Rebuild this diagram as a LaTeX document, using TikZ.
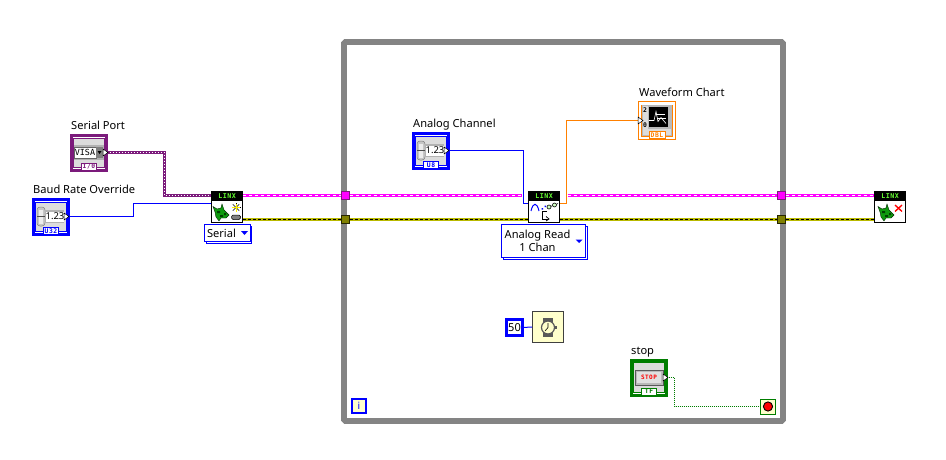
\documentclass[tikz,border=0pt]{standalone}
\usepackage{fontspec}
\setmainfont{Noto Sans}
\newfontfamily\pixfont[LetterSpace=8]{DejaVu Sans Mono}
\newfontfamily\visafont{DejaVu Sans Mono}
\usetikzlibrary{calc}
\definecolor{lvblue}{HTML}{0000FF}
\definecolor{lvpurple}{HTML}{7B1A7B}
\definecolor{lvorange}{HTML}{FF8000}
\definecolor{lvgreen}{HTML}{007D00}
\definecolor{lvgray}{HTML}{DCDCDC}
\definecolor{midgray}{HTML}{848484}
\definecolor{lvmag}{HTML}{FF00FF}
\definecolor{lvolive}{HTML}{808000}
\definecolor{lvyellow}{HTML}{E8E800}
\definecolor{paleyellow}{HTML}{FFFFCC}
\definecolor{linxgreen}{HTML}{0E9A0E}
\definecolor{linxtext}{HTML}{66FF33}
\pgfdeclarelayer{frame}
\pgfdeclarelayer{wires}
\pgfsetlayers{frame,wires,main}
\tikzset{
  x=1pt,y=-1pt,
  ctlbox/.style={draw=#1,fill=white,line width=3pt,minimum size=35pt,inner sep=0pt,outer sep=0pt},
  labeltext/.style={anchor=base west,inner sep=0pt,font=\fontsize{11.1}{13}\selectfont,text=black},
  tabtext/.style={inner sep=0pt,font=\pixfont\bfseries\fontsize{6.4}{7}\selectfont},
  linxbox/.style={draw=black,fill=white,line width=1pt,minimum width=31pt,minimum height=31pt,inner sep=0pt,outer sep=0.5pt},
  linxtag/.style={inner sep=0pt,text=linxtext,font=\pixfont\bfseries\fontsize{6.6}{7}\selectfont},
  tunnelmag/.style={draw=lvpurple,fill=lvmag,line width=0.6pt,minimum size=8.4pt,inner sep=0pt,outer sep=0pt},
  tunnelyel/.style={draw=black!70!lvolive,fill=lvolive,line width=0.6pt,minimum size=8.4pt,inner sep=0pt,outer sep=0pt},
  ringbox/.style={draw=lvblue,fill=white,line width=0.8pt,inner sep=0pt,outer sep=0pt},
  ringshadow/.style={draw=lvblue,fill=white,line width=0.8pt},
  wireblue/.style={draw=lvblue,line width=1pt},
  wireorange/.style={draw=lvorange,line width=1pt},
  wiregreen/.style={draw=lvgreen,line width=1pt,dash pattern=on 1pt off 1pt},
  wirepurple/.style={draw=lvpurple,line width=2.4pt,postaction={draw=white,line width=0.7pt,dash pattern=on 1pt off 2pt}},
  wiremag/.style={draw=lvmag,line width=3pt,postaction={draw=white,line width=1pt,dash pattern=on 3pt off 3pt}},
  wireyel/.style={draw=lvyellow!55!lvolive,line width=3pt,postaction={draw=black,line width=1.2pt,dash pattern=on 3pt off 2pt}},
  termtip/.style={draw=black,fill=white,line width=0.5pt},
}
\newcommand{\tabmark}[5]{% x0,y0,x1,y1 relative, text; colour via \tabcol
  \node[draw=\tabcol,fill=white,line width=0.8pt,minimum width=#3-#1,minimum height=#4-#2,inner sep=0pt,text=\tabcol,tabtext] at ($(#1,#2)!0.5!(#3,#4)$) {#5};}
\newcommand{\numctl}[5]{% name,cx,cy,tab text, tab width
  \node[ctlbox=lvblue] (#1) at (#2,#3) {};
  \begin{scope}[shift={(#2,#3)}]
    \draw[lvblue,line width=0.7pt,fill=lvgray] (-15.5,-14.5) rectangle (15.5,14.5);
    \draw[fill=gray!45,draw=gray,line width=0.5pt,rounded corners=3pt] (-14,-9.5) rectangle (-6,9.5);
    \fill[gray!15] (-12,-7) rectangle (-8,7);
    \draw[gray!60!black,line width=0.5pt] (-14,0) -- (-6,0);
    \fill[gray!60] (-6,-6.5) rectangle (13,6.5);
    \node[draw=none,fill=white,minimum width=18pt,minimum height=10pt,inner sep=0pt,font=\fontsize{9.5}{10}\selectfont] at (4,0) {1.23};
    \draw[termtip] (13,-3.5) -- (18,0) -- (13,3.5) -- cycle;
    \def\tabcol{lvblue}
    \tabmark{-#5}{11}{#5}{17.5}{#4}
  \end{scope}}
\newcommand{\linxhead}[2]{% top-left x,y
  \begin{scope}[shift={(#1,#2)}]
    \fill[linxgreen,draw=black!70!linxgreen,line width=0.4pt] (0,2.5) -- (4,5) -- (8,4) -- (9,0) -- (11,6) -- (16,11) -- (13,14) -- (8,14) -- (6,17) -- (3,13) -- (2,8) -- cycle;
    \fill[black!75!green] (4,7) rectangle (7,9) (7,11) rectangle (10,13) (11,9) rectangle (13,11);
  \end{scope}}
\begin{document}
\begin{tikzpicture}
\useasboundingbox (0,0) rectangle (946,460);

% while loop frame
\begin{pgfonlayer}{frame}
  \fill[white] (0,0) rectangle (946,460);
  \draw[midgray,line width=5.7pt,rounded corners=1.5pt] (344,42) rectangle (783,421);
\end{pgfonlayer}

% controls
\node[ctlbox=lvpurple] (serialport) at (89,152.5) {};
\begin{scope}[shift={(89,152.5)}]
  \draw[lvpurple,line width=0.7pt,fill=lvgray] (-15.5,-14.5) rectangle (15.5,14.5);
  \fill[gray!60] (-15.2,-7.5) rectangle (15,7.5);
  \node[draw=black!60,fill=white,line width=0.4pt,minimum width=22pt,minimum height=11pt,inner sep=0pt,font=\visafont\fontsize{8.4}{9}\selectfont] at (-4,0) {VISA};
  \fill[gray] (7,-5.5) rectangle (14,5.5);
  \fill[black] (8.5,-1.5) -- (12.5,-1.5) -- (10.5,1.5) -- cycle;
  \draw[termtip] (14,-3.5) -- (19,0) -- (14,3.5) -- cycle;
  \def\tabcol{lvpurple}
  \tabmark{-7.5}{10.5}{7.5}{17.5}{I/0}
\end{scope}
\node[labeltext] (lblserial) at (71,129) {Serial Port};

\numctl{baud}{51}{216.5}{U32}{7.5}
\node[labeltext] (lblbaud) at (33,193) {Baud Rate Override};

\numctl{chan}{431}{150.5}{U8}{7.5}
\node[labeltext] (lblchan) at (413,127.5) {Analog Channel};

% waveform chart
\node[draw=lvorange,fill=white,line width=1pt,minimum size=37pt,inner sep=0pt,outer sep=0pt] (chart) at (657,120.5) {};
\begin{scope}[shift={(657,120.5)}]
  \draw[lvorange,line width=0.7pt] (-15.5,-15.5) rectangle (15.5,15.5);
  \fill[gray!55] (-15,-15) rectangle (15,15);
  \fill[lvgray] (-14,-14) rectangle (-9,12);
  \fill[lvgray] (-14,8) rectangle (14,14);
  \fill[black] (-8,-13) rectangle (11,6);
  \draw[white,line width=0.6pt] (-8,0) -- (-3,0) -- (-1,-9) -- (1,1) -- (4,-3) -- (9,3);
  \draw[white,line width=0.5pt] (-1,-6) -- (8,-6) (0,-2) -- (9,-2);
  \node[tabtext] at (-12,-10) {2};
  \node[tabtext] at (-12,5) {0};
  \draw[termtip] (-19,-3.5) -- (-14,0) -- (-19,3.5) -- cycle;
  \def\tabcol{lvorange}
  \tabmark{-8}{11}{8}{17.5}{DBL}
\end{scope}
\node[labeltext] (lblchart) at (639,96.5) {Waveform Chart};

% stop button
\node[ctlbox=lvgreen] (stopbtn) at (649,377.5) {};
\begin{scope}[shift={(649,377.5)}]
  \draw[lvgreen,line width=0.7pt,fill=lvgray] (-15.5,-15) rectangle (15.5,15);
  \draw[draw=gray!70!black,fill=gray!55,line width=0.8pt] (-14,-7.5) rectangle (14,7.5);
  \fill[gray!25] (-12,-5.5) rectangle (12,5.5);
  \node[inner sep=0pt,text=red,font=\pixfont\bfseries\fontsize{6}{6}\selectfont] at (0,0) {STOP};
  \draw[termtip] (14,-3.5) -- (19,0) -- (14,3.5) -- cycle;
  \def\tabcol{lvgreen}
  \tabmark{-7.5}{10.5}{7.5}{17.5}{TF}
\end{scope}
\node[labeltext] (lblstop) at (631,354) {stop};

% LINX open
\node[linxbox] (open) at (227,207) {};
\fill[black] (211,191) rectangle (243,201);
\node[linxtag] at (227,196) {LINX};
\linxhead{213}{204}
\foreach \a in {0,45,...,135} {\draw[black,line width=0.6pt] (236,207.5) ++(\a:4.5) -- ++(\a+180:9);}
\draw[yellow,line width=0.9pt] (236,203.5) -- (236,211.5) (232,207.5) -- (240,207.5);
\draw[black,fill=gray,line width=0.5pt,rounded corners=1.5pt] (231.5,215) rectangle (240.5,219.5);

% LINX read
\node[linxbox] (read) at (544,207) {};
\fill[black] (528,191) rectangle (560,201);
\node[linxtag] at (544,196) {LINX};
\draw[lvblue,line width=1pt] (531,211) .. controls (533,202) and (537,202) .. (539,211);
\fill[lvblue] (541.5,208) rectangle (543,209.5) (544.5,205.5) rectangle (546,207);
\draw[black,line width=0.7pt] (547,211.5) -- (542,211.5) -- (542,219) -- (548,219);
\draw[black,line width=0.7pt] (546,216.5) -- (549,219) -- (546,221);
\draw[black,fill=linxtext!30,line width=0.6pt] (549,207) circle (2);
\draw[black,fill=linxtext!30,line width=0.6pt] (554.5,205) circle (2);
\draw[black,line width=0.6pt] (551,206.3) -- (552.5,205.7) (556.5,204.3) -- (558,203.5);

% LINX close
\node[linxbox] (close) at (890,207) {};
\fill[black] (874,191) rectangle (906,201);
\node[linxtag] at (890,196) {LINX};
\linxhead{878}{204}
\draw[red,line width=1.3pt] (895,205) -- (902,211.5) (902,205) -- (895,211.5);

% ring selectors
\draw[ringshadow] (206,226.5) rectangle (251.5,243.5);
\node[ringbox,minimum width=46pt,minimum height=17pt] (serialring) at (227,233) {};
\node[inner sep=0pt,font=\fontsize{11.1}{13}\selectfont] (serialtxt) at (221.5,233.5) {Serial};
\fill[lvblue] (241,231) -- (248,231) -- (244.5,235) -- cycle;

\draw[ringshadow] (503,226.5) rectangle (587.5,259);
\node[ringbox,minimum width=84pt,minimum height=33pt] (readring) at (543.5,241) {};
\node[inner sep=0pt,align=center,font=\fontsize{11.1}{13.5}\selectfont] (readtxt) at (537.5,241) {Analog Read\\1 Chan};
\fill[lvblue] (575.5,239.5) -- (582.5,239.5) -- (579,243) -- cycle;

% tunnels
\node[tunnelmag] (tml) at (345.5,195.5) {};
\node[tunnelmag] (tmr) at (781.5,195.5) {};
\node[tunnelyel] (tyl) at (345.5,219.5) {};
\node[tunnelyel] (tyr) at (781.5,219.5) {};

% wait, constant, iteration, stop terminal
\node[draw=lvblue,fill=white,line width=2.5pt,minimum width=16pt,minimum height=16pt,inner sep=0pt,outer sep=0pt,font=\fontsize{11}{12}\selectfont] (const) at (514.5,327.5) {50};
\node[draw=gray!50!black,fill=paleyellow,line width=0.8pt,minimum width=31pt,minimum height=31pt,inner sep=0pt,outer sep=0.4pt] (wait) at (548,327) {};
\fill[black!65] (543,317.5) rectangle (553,337);
\draw[black!65,fill=paleyellow,line width=1.2pt] (548,327.5) circle (6.5);
\fill[black!65] (555,326) rectangle (557,329);
\draw[black,line width=0.6pt] (548,323) -- (548,327.5) -- (545,331);
\node[draw=lvblue,fill=paleyellow,line width=2pt,minimum size=13.5pt,inner sep=0pt,outer sep=0pt,text=lvblue,font=\bfseries\fontsize{10}{11}\selectfont] (iter) at (359,406) {i};
\node[draw=lvgreen,fill=paleyellow,line width=1pt,minimum size=15pt,inner sep=0pt,outer sep=0pt] (cond) at (768,406.5) {};
\draw[black,fill=red,line width=0.9pt] (768,406.5) circle (4.6);

% connectors
\coordinate (openpurple) at (211,195.5);
\coordinate (purplebend) at (164.5,195.5);
\coordinate (openblue) at (211,203.5);
\coordinate (baudbend) at (133.5,203.5);
\coordinate (openmag) at (243,195.5);
\coordinate (openyel) at (243,219.5);
\coordinate (closemag) at (874,195.5);
\coordinate (closeyel) at (874,219.5);
\coordinate (gapleft) at (522,195.5);
\coordinate (gapright) at (567.5,195.5);
\coordinate (readyelL) at (528,219.5);
\coordinate (readyelR) at (560,219.5);
\coordinate (readin) at (528,203.5);
\coordinate (chanbend) at (523.5,150.5);
\coordinate (readout) at (560,203.5);
\coordinate (chartbend) at (566.5,120.5);
\coordinate (stopbend) at (674.5,377.5);
\coordinate (condbend) at (674.5,406.5);
\begin{pgfonlayer}{wires}
  \draw[wirepurple] (serialport.east) -| (purplebend) -- (openpurple);
  \draw[wireblue] (baud.east) -| (baudbend) -- (openblue);
  \draw[wiremag] (openmag) -- (tml.west);
  \draw[wiremag] (tml.east) -- (gapleft);
  \draw[wiremag] (gapright) -- (tmr.west);
  \draw[wiremag] (tmr.east) -- (closemag);
  \draw[wireyel] (openyel) -- (tyl.west);
  \draw[wireyel] (tyl.east) -- (readyelL);
  \draw[wireyel] (readyelR) -- (tyr.west);
  \draw[wireyel] (tyr.east) -- (closeyel);
  \draw[wireblue] (chan.east) -- (chanbend) |- (readin);
  \draw[wireorange] (readout) -| (chartbend) -- (chart.west);
  \draw[wireblue] (const.east) -- (wait.west);
  \draw[wiregreen] (stopbtn.east) -- (stopbend) -- (condbend) -- (cond.west);
\end{pgfonlayer}
\end{tikzpicture}
\end{document}
